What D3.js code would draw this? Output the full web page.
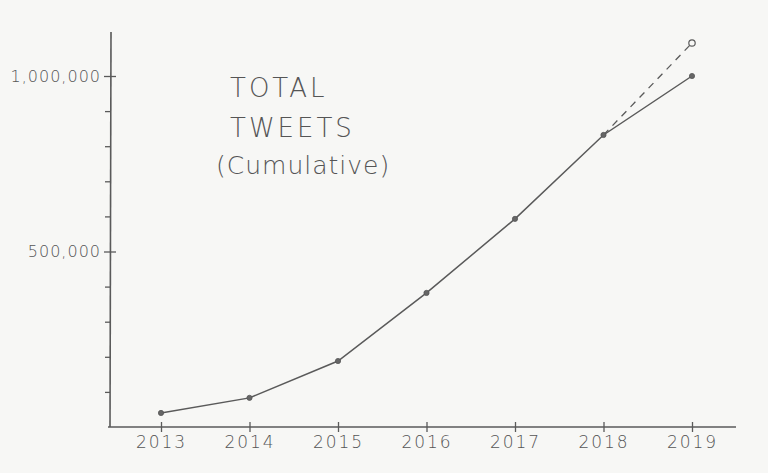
<!DOCTYPE html>
<html>
<head>
<meta charset="utf-8">
<script src="https://cdn.jsdelivr.net/npm/d3@7"></script>
<style>
  html, body { margin: 0; padding: 0; background: #f7f7f5; }
  svg { display: block; }
  .hand { font-family: "DejaVu Sans", sans-serif; font-weight: 200; fill: #555; }
</style>
</head>
<body>
<svg id="chart" width="768" height="473"></svg>
<script>
// ---- data ----
const years = [2013, 2014, 2015, 2016, 2017, 2018, 2019];
const totals = [40000, 83000, 188000, 382000, 593000, 832000, 1000000];
const projectedYears = [2018, 2019];
const projectedTotals = [832000, 1094000];
const majorTicks = [500000, 1000000];
const majorTickLabels = ["500,000", "1,000,000"];
const minorTicks = [100000, 200000, 300000, 400000, 600000, 700000, 800000, 900000];
const titleLines = ["TOTAL", "TWEETS", "(Cumulative)"];

// ---- layout ----
const svg = d3.select("#chart");
const ink = "#5a5a5a";
const x = d3.scaleLinear().domain([2013, 2019]).range([161, 692]);
const y = d3.scaleLinear().domain([0, 1000000]).range([427, 76]);

// axis lines
svg.append("line").attr("x1", 108).attr("x2", 736).attr("y1", y(0)).attr("y2", y(0))
  .attr("stroke", ink).attr("stroke-width", 1.6);
svg.append("line").attr("x1", 110).attr("x2", 111).attr("y1", y(0)).attr("y2", 32)
  .attr("stroke", ink).attr("stroke-width", 1.6);

// x axis ticks & labels
const xAxis = d3.axisBottom(x).tickValues(years).tickFormat(d3.format("d"))
  .tickSizeInner(10).tickSizeOuter(0).tickPadding(4);
const gx = svg.append("g").attr("transform", `translate(0,${y(0) - 5})`).call(xAxis);
gx.select(".domain").remove();
gx.selectAll(".tick line").attr("stroke", ink).attr("stroke-width", 1.3);
gx.selectAll(".tick text").attr("class", "hand").attr("font-size", 17)
  .attr("letter-spacing", 2).attr("fill", "#555");

// y axis major ticks
const yAxis = d3.axisLeft(y).tickValues(majorTicks)
  .tickFormat((d, i) => majorTickLabels[i]).tickSizeInner(12).tickSizeOuter(0).tickPadding(3);
const gy = svg.append("g").attr("transform", `translate(116,0)`).call(yAxis);
gy.select(".domain").remove();
gy.selectAll(".tick line").attr("stroke", ink).attr("stroke-width", 1.3);
gy.selectAll(".tick text").attr("class", "hand").attr("font-size", 16)
  .attr("letter-spacing", 1).attr("fill", "#555");

// y axis minor ticks
const gyMinor = d3.axisLeft(y).tickValues(minorTicks).tickFormat("").tickSizeInner(5).tickSizeOuter(0);
const gm = svg.append("g").attr("transform", `translate(110,0)`).call(gyMinor);
gm.select(".domain").remove();
gm.selectAll(".tick line").attr("stroke", ink).attr("stroke-width", 1.3);

// projection (dashed)
const line = d3.line().x(d => x(d[0])).y(d => y(d[1]));
svg.append("path").datum(projectedYears.map((d, i) => [d, projectedTotals[i]]))
  .attr("d", line).attr("fill", "none").attr("stroke", ink)
  .attr("stroke-width", 1.3).attr("stroke-dasharray", "7,6");

// main line
const pts = years.map((d, i) => [d, totals[i]]);
svg.append("path").datum(pts).attr("d", line).attr("fill", "none")
  .attr("stroke", ink).attr("stroke-width", 1.5);

svg.selectAll("circle.pt").data(pts).enter().append("circle").attr("class", "pt")
  .attr("cx", d => x(d[0])).attr("cy", d => y(d[1])).attr("r", 2.6)
  .attr("fill", "#666").attr("stroke", "#555").attr("stroke-width", 0.8);

// projected open point
svg.append("circle").attr("cx", x(projectedYears[1])).attr("cy", y(projectedTotals[1]))
  .attr("r", 3.2).attr("fill", "#f7f7f5").attr("stroke", ink).attr("stroke-width", 1.2);

// title
const tl = svg.append("g");
const titleY = [97, 137, 174];
const titleX = [230, 230, 216];
const titleSize = [26, 26, 25];
titleLines.forEach((t, i) => {
  tl.append("text").attr("class", "hand").attr("x", titleX[i]).attr("y", titleY[i])
    .attr("font-size", titleSize[i]).attr("letter-spacing", i < 2 ? 3 : 1).text(t);
});
</script>
</body>
</html>
